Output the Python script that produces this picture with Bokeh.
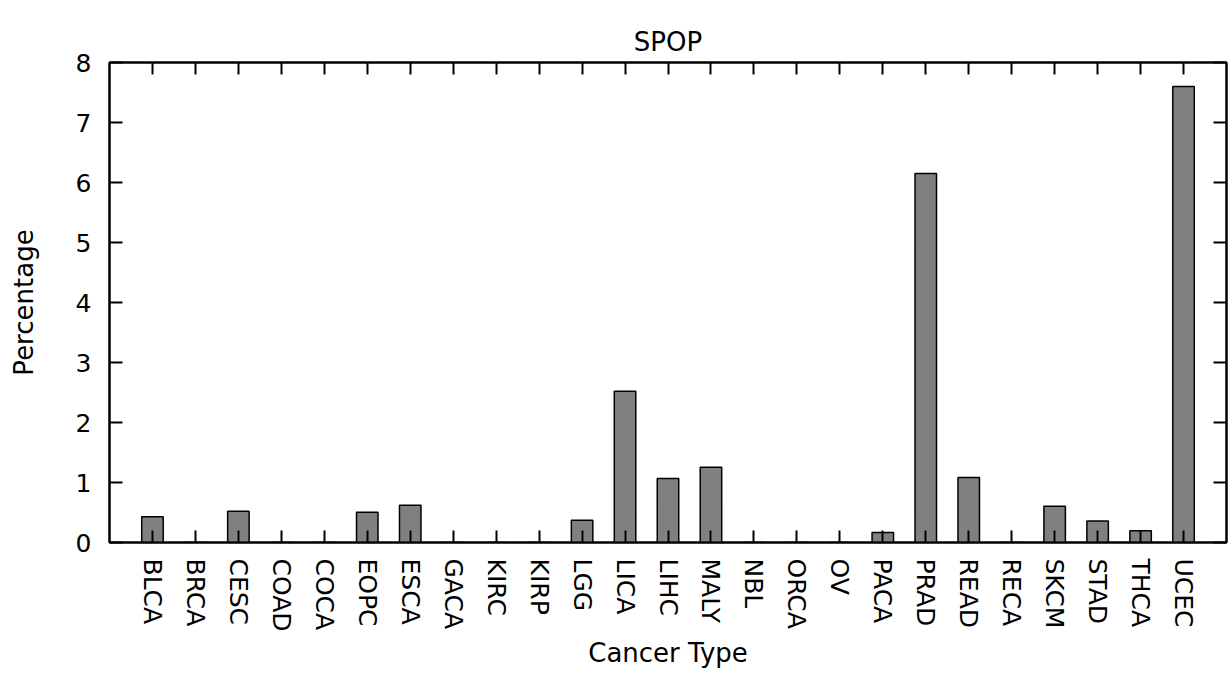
import math
from bokeh.plotting import figure
from bokeh.models import FactorRange, Range1d, FixedTicker, LinearAxis, CategoricalAxis, ColumnDataSource
from bokeh.embed import file_html
from bokeh.resources import INLINE

cancer_types = ["BLCA", "BRCA", "CESC", "COAD", "COCA", "EOPC", "ESCA", "GACA", "KIRC", "KIRP",
                "LGG", "LICA", "LIHC", "MALY", "NBL", "ORCA", "OV", "PACA", "PRAD", "READ",
                "RECA", "SKCM", "STAD", "THCA", "UCEC"]
percentages = [0.43, 0.0, 0.52, 0.0, 0.0, 0.505, 0.62, 0.0, 0.0, 0.0,
               0.37, 2.52, 1.067, 1.255, 0.0, 0.0, 0.0, 0.167, 6.15, 1.083,
               0.0, 0.605, 0.36, 0.195, 7.6]
y_ticks = [0, 1, 2, 3, 4, 5, 6, 7, 8]
title_text = "SPOP"

FONT = "DejaVu Sans"

source = ColumnDataSource(data=dict(cat=cancer_types, val=percentages))

p = figure(width=1231, height=673,
           x_range=FactorRange(*cancer_types, range_padding=0.04),
           y_range=Range1d(0, 8),
           output_backend="svg", toolbar_location=None,
           min_border_left=109, min_border_right=5, min_border_top=62, min_border_bottom=131)

p.vbar(x="cat", top="val", width=0.5, source=source,
       fill_color="#808080", line_color="black", line_width=1.5)

p.xgrid.visible = False
p.ygrid.visible = False
p.outline_line_color = "black"
p.outline_line_width = 2
p.background_fill_color = "white"
p.border_fill_color = "white"

# Title
p.title.text = title_text
p.title.align = "center"
p.title.vertical_align = "top"
p.title.text_font = FONT
p.title.text_font_size = "26px"
p.title.text_font_style = "normal"
p.title.text_color = "black"
p.title.text_line_height = 1.6
p.title.standoff = 8

# X axis
xa = p.xaxis[0]
xa.axis_label = "Cancer Type"
xa.axis_label_text_font = FONT
xa.axis_label_text_font_size = "26px"
xa.axis_label_text_font_style = "normal"
xa.axis_label_text_color = "black"
xa.axis_label_standoff = 3
xa.major_label_text_font = FONT
xa.major_label_text_font_size = "25px"
xa.major_label_text_color = "black"
xa.major_label_orientation = -math.pi / 2
xa.major_label_standoff = 16
xa.major_tick_in = 12
xa.major_tick_out = 0
xa.major_tick_line_width = 2
xa.axis_line_width = 2

# Y axis
ya = p.yaxis[0]
ya.ticker = FixedTicker(ticks=y_ticks)
ya.axis_label = "Percentage"
ya.axis_label_text_font = FONT
ya.axis_label_text_font_size = "26px"
ya.axis_label_text_font_style = "normal"
ya.axis_label_text_color = "black"
ya.axis_label_standoff = 34
ya.major_label_text_font = FONT
ya.major_label_text_font_size = "25px"
ya.major_label_text_color = "black"
ya.major_label_standoff = 18
ya.major_tick_in = 13
ya.major_tick_out = 0
ya.major_tick_line_width = 2
ya.minor_tick_line_color = None
ya.axis_line_width = 2

# Mirror axes (ticks only, labels not drawn)
top_axis = CategoricalAxis(major_label_text_font_size="0px", major_label_text_color=None,
                           major_label_standoff=0,
                           major_tick_in=12, major_tick_out=0, major_tick_line_width=2,
                           axis_line_width=2)
p.add_layout(top_axis, "above")
right_axis = LinearAxis(ticker=FixedTicker(ticks=y_ticks), major_label_text_font_size="0px",
                        major_label_text_color=None,
                        major_label_standoff=0, major_tick_in=13, major_tick_out=0,
                        major_tick_line_width=2, minor_tick_line_color=None, axis_line_width=2)
p.add_layout(right_axis, "right")

open("out.html", "w").write(file_html(p, INLINE))
